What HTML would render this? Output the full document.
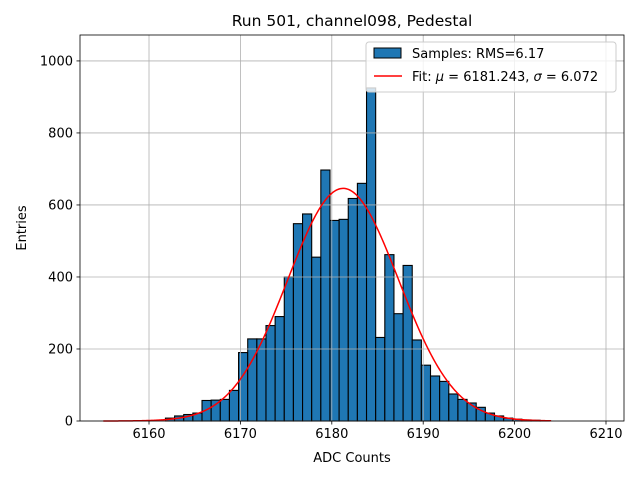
<!DOCTYPE html>
<html><head><meta charset="utf-8"><style>
body{margin:0;background:#fff;font-family:"Liberation Sans","DejaVu Sans",sans-serif}
</style></head><body>
<svg id="c" width="640" height="480" xmlns="http://www.w3.org/2000/svg" font-family="DejaVu Sans, Liberation Sans, sans-serif">
</svg>
<script>
const binStart = 6161.8;
const binWidth = 1;
const counts = [8,14,18,22,57,58,60,85,190,228,228,265,290,400,548,575,455,697,557,560,618,660,925,232,462,298,432,225,155,125,110,75,60,50,38,22,14,8,5,3,2,1];
const xTicks = [6160,6170,6180,6190,6200,6210];
const yTicks = [0,200,400,600,800,1000];
const fitMu = 6181.243, fitSigma = 6.072, fitAmp = 646;
const fitRange = [6155, 6204];

const L=80,R=624,T=35,B=421;
const xMin=6152.45,xMax=6211.97,yMax=1072;
const X=v=>L+(v-xMin)/(xMax-xMin)*(R-L);
const Y=v=>B-v/yMax*(B-T);
const svg=document.getElementById('c');
const NS='http://www.w3.org/2000/svg';
function mk(t,a,p){const e=document.createElementNS(NS,t);for(const k in a)e.setAttribute(k,a[k]);(p||svg).appendChild(e);return e;}

mk('rect',{x:L,y:T,width:R-L,height:B-T,fill:'#fff'});

const bars=mk('g',{});


counts.forEach((c,i)=>{
  const x0=X(binStart+i*binWidth),x1=X(binStart+(i+1)*binWidth);
  const r=mk('rect',{x:x0,y:Y(c),width:x1-x0,height:B-Y(c),fill:'#1f77b4',stroke:'#000','stroke-width':1.1},bars);
  
  
});

const grid=mk('g',{});


xTicks.forEach(t=>{mk('line',{x1:X(t),x2:X(t),y1:T,y2:B,stroke:'#b0b0b0','stroke-width':0.8},grid);});
yTicks.forEach(t=>{mk('line',{x1:L,x2:R,y1:Y(t),y2:Y(t),stroke:'#b0b0b0','stroke-width':0.8},grid);});

let d='';
for(let i=0;i<=400;i++){const v=fitRange[0]+(fitRange[1]-fitRange[0])*i/400;
  const y=fitAmp*Math.exp(-0.5*((v-fitMu)/fitSigma)**2);
  d+=(i?'L':'M')+X(v).toFixed(2)+','+Y(y).toFixed(2);}
const fit=mk('path',{d:d,fill:'none',stroke:'#ff0000','stroke-width':1.5});



mk('rect',{x:L,y:T,width:R-L,height:B-T,fill:'none',stroke:'#000','stroke-width':0.8});
xTicks.forEach(t=>{mk('line',{x1:X(t),x2:X(t),y1:B,y2:B+3.5,stroke:'#000','stroke-width':0.8});
  const tx=mk('text',{x:X(t),y:B+17,'text-anchor':'middle','font-size':13});tx.textContent=t;
  
  });
yTicks.forEach(t=>{mk('line',{x1:L-3.5,x2:L,y1:Y(t),y2:Y(t),stroke:'#000','stroke-width':0.8});
  const tx=mk('text',{x:L-7,y:Y(t)+4.5,'text-anchor':'end','font-size':13});tx.textContent=t;
  
  });
</script>
<svg width="640" height="480" style="position:absolute;left:0;top:0" font-family="DejaVu Sans, Liberation Sans, sans-serif">
<text x="352" y="26" text-anchor="middle" font-size="15.5">Run 501, channel098, Pedestal</text>
<text x="352" y="462" text-anchor="middle" font-size="13">ADC Counts</text>
<text x="26" y="228" text-anchor="middle" font-size="13" transform="rotate(-90 26 228)">Entries</text>
<g>
<rect x="366" y="42" width="250" height="50" rx="3" fill="#fff" fill-opacity="0.8" stroke="#ccc"/>
<rect x="374" y="48" width="27" height="10" fill="#1f77b4" stroke="#000"/>
<text x="412" y="58" font-size="13">Samples: RMS=6.17</text>
<line x1="374" x2="402" y1="76" y2="76" stroke="#ff0000" stroke-width="1.5"/>
<text x="412" y="81" font-size="13">Fit: <tspan font-style="italic">μ</tspan> = 6181.243, <tspan font-style="italic">σ</tspan> = 6.072</text>
</g>
</svg>
</body></html>
